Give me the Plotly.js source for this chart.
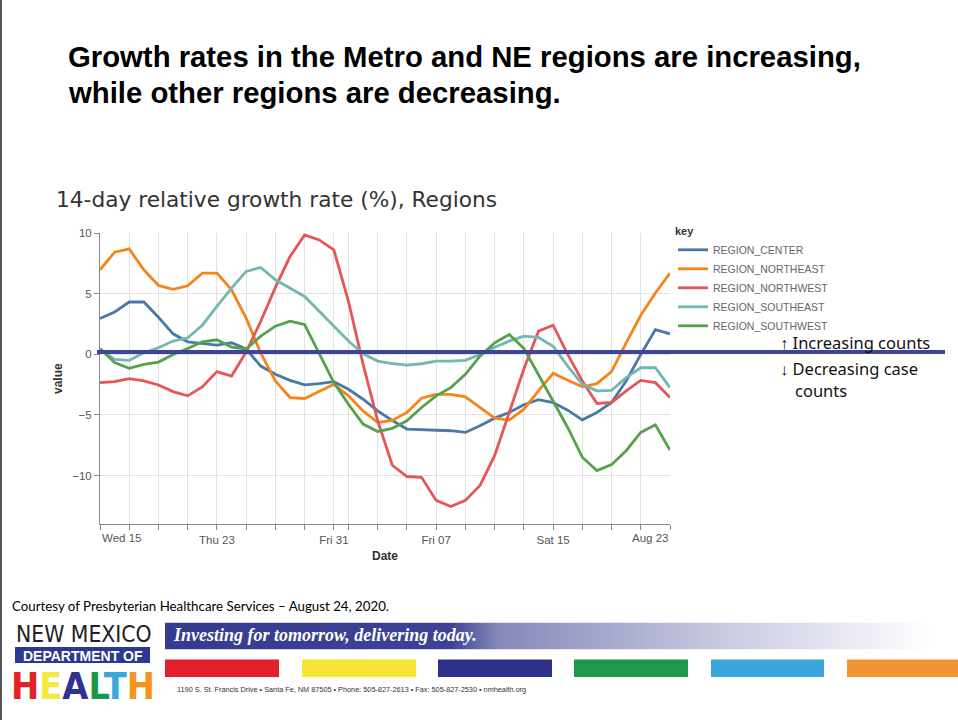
<!DOCTYPE html>
<html><head><meta charset="utf-8">
<script src="https://cdn.plot.ly/plotly-3.0.1.min.js"></script>
<style>html,body{margin:0;padding:0;background:#fff;} #chart{width:958px;height:720px;}</style>
</head><body><div id="chart"></div>
<script>
// ---------- data ----------
const dates = ['2020-07-15','2020-07-16','2020-07-17','2020-07-18','2020-07-19','2020-07-20','2020-07-21','2020-07-22',
  '2020-07-23','2020-07-24','2020-07-25','2020-07-26','2020-07-27','2020-07-28','2020-07-29','2020-07-30',
  '2020-07-31','2020-08-01','2020-08-02','2020-08-03','2020-08-04','2020-08-05','2020-08-06','2020-08-07',
  '2020-08-08','2020-08-09','2020-08-10','2020-08-11','2020-08-12','2020-08-13','2020-08-14','2020-08-15',
  '2020-08-16','2020-08-17','2020-08-18','2020-08-19','2020-08-20','2020-08-21','2020-08-22','2020-08-23'];
const seriesNames = ['REGION_CENTER','REGION_NORTHEAST','REGION_NORTHWEST','REGION_SOUTHEAST','REGION_SOUTHWEST'];
const center = [2.96,3.51,4.33,4.33,3.07,1.70,1.04,0.88,0.77,0.96,0.45,-0.96,-1.64,-2.14,-2.52,-2.41,-2.25,-2.88,-3.70,-4.66,
  -5.45,-6.16,-6.22,-6.25,-6.30,-6.44,-5.89,-5.26,-4.79,-4.15,-3.74,-3.97,-4.60,-5.40,-4.79,-3.97,-2.19,0.0,2.05,1.70];
const northeast = [6.99,8.44,8.71,6.99,5.70,5.37,5.67,6.71,6.71,5.34,3.0,0.1,-2.19,-3.56,-3.64,-3.07,-2.47,-3.42,-4.66,-5.62,
  -5.45,-4.79,-3.62,-3.29,-3.29,-3.50,-4.38,-5.26,-5.42,-4.52,-3.0,-1.56,-2.14,-2.68,-2.41,-1.42,0.96,3.23,5.07,6.71];
const northwest = [-2.33,-2.25,-2.0,-2.19,-2.52,-3.07,-3.42,-2.68,-1.42,-1.78,0.2,2.74,5.53,8.08,9.86,9.45,8.63,4.38,-0.8,-5.48,
  -9.15,-10.08,-10.14,-12.05,-12.55,-12.05,-10.82,-8.36,-4.79,-1.2,1.92,2.41,0.0,-2.19,-4.05,-3.97,-3.01,-2.14,-2.33,-3.56];
const southeast = [0.41,-0.41,-0.49,0.14,0.55,1.10,1.37,2.41,3.97,5.48,6.85,7.18,6.16,5.48,4.79,3.56,2.33,1.10,0.05,-0.55,
  -0.75,-0.88,-0.77,-0.55,-0.55,-0.49,0.0,0.60,1.10,1.51,1.40,0.68,-0.96,-2.47,-3.01,-2.96,-1.92,-1.10,-1.10,-2.74];
const southwest = [0.49,-0.68,-1.15,-0.82,-0.63,0.0,0.49,1.04,1.21,0.60,0.45,1.51,2.33,2.74,2.47,0.0,-2.33,-4.11,-5.75,-6.36,
  -6.1,-5.48,-4.38,-3.42,-2.74,-1.64,-0.14,0.96,1.64,0.5,-1.64,-3.84,-6.03,-8.49,-9.59,-9.10,-7.95,-6.44,-5.81,-7.89];
const tickDates = ['2020-07-15','2020-07-17','2020-07-19','2020-07-21','2020-07-23','2020-07-25','2020-07-27','2020-07-29',
  '2020-07-31','2020-08-01','2020-08-03','2020-08-05','2020-08-07','2020-08-09','2020-08-11','2020-08-13','2020-08-15',
  '2020-08-17','2020-08-19','2020-08-21','2020-08-23'];
const tickLabels = ['Wed 15','','','','Thu 23','','','','Fri 31','','','','Fri 07','','','','Sat 15','','','','Aug 23'];
const yTickVals = [-10,-5,0,5,10];
const zeroMarker = 0.2;

// ---------- styles ----------
const colors = ['#4c78a8','#f58518','#e45756','#72b7b2','#54a24b'];
const seriesValues = [center, northeast, northwest, southeast, southwest];
const W = 958, H = 720;
const px = x => x / W, py = y => 1 - y / H;
const SANS = 'Liberation Sans, Arial, sans-serif';
const NARROW = 'Liberation Sans Narrow, DejaVu Sans Condensed, Arial Narrow, sans-serif';

const traces = seriesNames.map((n, i) => ({
  x: dates, y: seriesValues[i], name: n, type: 'scatter', mode: 'lines',
  line: {color: colors[i], width: 2.8}
}));

const lastIdx = tickLabels.length - 1;
const ticktext = tickLabels.map((t, i) => (i === 0 || i === lastIdx) ? '' : t);

const healthLetters = ['H','E','A','L','T','H'];
const healthColors = ['#e2232a','#f4e842','#2e3192','#1a9a48','#39a9dc','#f7941d'];
const healthText = '<b>' + healthLetters.map((L, i) => '<span style="color:' + healthColors[i] + '">' + L + '</span>').join('') + '</b>';

const annotations = [
  // flush first/last x labels
  {xref:'x', yref:'paper', x: tickDates[0], y: py(538), xanchor:'left', yanchor:'middle', showarrow:false,
   text: tickLabels[0], font:{family:SANS, size:11.5, color:'#555'}},
  {xref:'x', yref:'paper', x: tickDates[lastIdx], y: py(538), xanchor:'right', yanchor:'middle', showarrow:false,
   text: tickLabels[lastIdx], font:{family:SANS, size:11.5, color:'#555'}},
  // slide title
  {xref:'paper', yref:'paper', x: px(66), y: py(57), xanchor:'left', yanchor:'middle', showarrow:false,
   text:'<b>Growth rates in the Metro and NE regions are increasing,</b>', font:{family:SANS, size:29.3, color:'#000'}},
  {xref:'paper', yref:'paper', x: px(66), y: py(93), xanchor:'left', yanchor:'middle', showarrow:false,
   text:'<b>while other regions are decreasing.</b>', font:{family:SANS, size:29.3, color:'#000'}},
  // chart title
  {xref:'paper', yref:'paper', x: px(54), y: py(199), xanchor:'left', yanchor:'middle', showarrow:false,
   text:'14-day relative growth rate (%), Regions', font:{family:'DejaVu Sans, sans-serif', size:21.7, color:'#333'}},
  // increasing / decreasing
  {xref:'paper', yref:'paper', x: px(778), y: py(342), xanchor:'left', yanchor:'middle', showarrow:false,
   text:'↑ Increasing counts', font:{family:'Noto Sans, sans-serif', size:16.5, color:'#111'}},
  {xref:'paper', yref:'paper', x: px(778), y: py(369), xanchor:'left', yanchor:'middle', showarrow:false,
   text:'↓ Decreasing case', font:{family:'Noto Sans, sans-serif', size:16.5, color:'#111'}},
  {xref:'paper', yref:'paper', x: px(793), y: py(391), xanchor:'left', yanchor:'middle', showarrow:false,
   text:'counts', font:{family:'Noto Sans, sans-serif', size:16.5, color:'#111'}},
  // footer
  {xref:'paper', yref:'paper', x: px(10), y: py(606), xanchor:'left', yanchor:'middle', showarrow:false,
   text:'Courtesy of Presbyterian Healthcare Services – August 24, 2020.', font:{family:'Lato, sans-serif', size:13.3, color:'#000'}},
  {xref:'paper', yref:'paper', x: px(14), y: py(634), xanchor:'left', yanchor:'middle', showarrow:false,
   text:'NEW MEXICO', font:{family:NARROW, size:22.7, color:'#222'}},
  {xref:'paper', yref:'paper', x: px(82.5), y: py(655.5), xanchor:'center', yanchor:'middle', showarrow:false,
   text:'<b>DEPARTMENT OF</b>', font:{family:SANS, size:14, color:'#fff'}},
  {xref:'paper', yref:'paper', x: px(82.5), y: py(686), xanchor:'center', yanchor:'middle', showarrow:false,
   text: healthText, font:{family:NARROW, size:37.5, color:'#e2232a'}},
  {xref:'paper', yref:'paper', x: px(171), y: py(635), xanchor:'left', yanchor:'middle', showarrow:false,
   text:'<b><i>Investing for tomorrow, delivering today.</i></b>', font:{family:'Liberation Serif, DejaVu Serif, serif', size:18, color:'#fff'}},
  {xref:'paper', yref:'paper', x: px(175), y: py(689), xanchor:'left', yanchor:'middle', showarrow:false,
   text:'1190 S. St. Francis Drive • Santa Fe, NM 87505 • Phone: 505-827-2613 • Fax: 505-827-2530 • nmhealth.org',
   font:{family:SANS, size:7.3, color:'#333'}}
];

const barColors = ['#e31e2d','#f7e534','#2e3189','#1c9a4a','#3aa6dc','#f39432'];
const barX = [[165,279],[302,416],[438,552],[574,688],[711,824],[847,958]];
const shapes = [
  {type:'line', xref:'paper', yref:'y', x0: px(97), x1: px(945), y0: zeroMarker, y1: zeroMarker,
   line:{color:'#3d4499', width:4}},
  {type:'rect', xref:'paper', yref:'paper', x0:0, x1:px(2), y0:0, y1:1, fillcolor:'#555', line:{width:0}},
  {type:'rect', xref:'paper', yref:'paper', x0:px(15), x1:px(150), y0:py(663), y1:py(647), fillcolor:'#2b3990', line:{width:0}}
];
barX.forEach((b, i) => shapes.push({type:'rect', xref:'paper', yref:'paper', x0:px(b[0]), x1:px(b[1]),
  y0:py(677), y1:py(659.5), fillcolor:barColors[i], line:{width:0}}));

const gradSvg = '<svg xmlns="http://www.w3.org/2000/svg" width="800" height="30" preserveAspectRatio="none">' +
  '<defs><linearGradient id="g" x1="0" x2="1" y1="0" y2="0">' +
  '<stop offset="0" stop-color="#353b8f"/><stop offset="0.36" stop-color="#3d4294"/>' +
  '<stop offset="0.42" stop-color="#8588b8"/><stop offset="0.68" stop-color="#c3c5df"/>' +
  '<stop offset="0.97" stop-color="#ffffff"/></linearGradient></defs>' +
  '<rect width="800" height="30" fill="url(#g)"/></svg>';

const layout = {
  width: W, height: H, margin:{l:0,r:0,t:0,b:0}, paper_bgcolor:'#fff', plot_bgcolor:'#fff',
  showlegend: true,
  font:{family:SANS, color:'#555'},
  xaxis: {
    type:'date', domain:[px(100), px(670)], range:[dates[0], dates[dates.length-1]],
    tickmode:'array', tickvals: tickDates, ticktext: ticktext,
    showgrid:true, gridcolor:'#e2e2e2', gridwidth:1,
    showline:true, linecolor:'#888', linewidth:1,
    ticks:'outside', ticklen:5, tickcolor:'#888',
    tickfont:{family:SANS, size:11.5, color:'#555'},
    zeroline:false, anchor:'y',
    title:{text:'<b>Date</b>', font:{family:SANS, size:12, color:'#333'}, standoff:6}
  },
  yaxis: {
    domain:[1-524/H, 1-233.3/H], range:[-14, 10],
    tickmode:'array', tickvals: yTickVals,
    showgrid:true, gridcolor:'#e2e2e2', gridwidth:1,
    showline:true, linecolor:'#888', linewidth:1,
    ticks:'outside', ticklen:5, tickcolor:'#888',
    tickfont:{family:SANS, size:11.5, color:'#555'},
    zeroline:false, anchor:'x',
    title:{text:'<b>value</b>', font:{family:SANS, size:12, color:'#333'}, standoff:6}
  },
  legend: {
    x: px(673), y: py(221), xanchor:'left', yanchor:'top', bgcolor:'rgba(0,0,0,0)',
    title:{text:'<b>key</b>', font:{family:SANS, size:11, color:'#333'}},
    font:{family:SANS, size:10.5, color:'#666'}, itemwidth:30, tracegroupgap:0
  },
  annotations: annotations,
  shapes: shapes,
  images: [{source:'data:image/svg+xml;charset=utf-8,' + encodeURIComponent(gradSvg),
    xref:'paper', yref:'paper', x:px(165), y:py(622.5), sizex:px(958)-px(165), sizey:27/H,
    sizing:'stretch', xanchor:'left', yanchor:'top', layer:'below'}]
};

Plotly.newPlot('chart', traces, layout, {displayModeBar:false, staticPlot:true});
</script>
</body></html>
